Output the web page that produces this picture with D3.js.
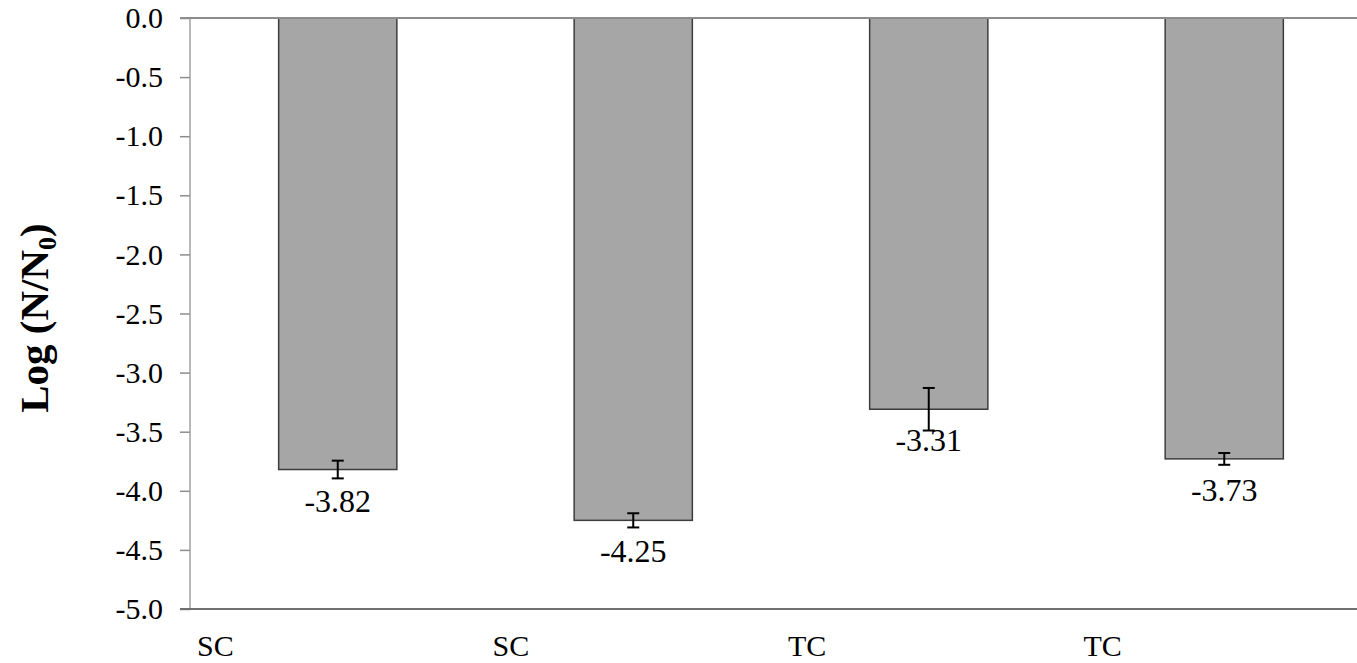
<!DOCTYPE html>
<html>
<head>
<meta charset="utf-8">
<script src="https://cdn.jsdelivr.net/npm/d3@7"></script>
<style>
  body { margin: 0; background: #fff; }
  text { font-family: "Liberation Serif", "Times New Roman", serif; }
</style>
</head>
<body>
<div id="chart"></div>
<script>
// bar chart of log reduction, four treatments with error bars
var categories = ['SC', 'SC', 'TC', 'TC'];
var values = [-3.82, -4.25, -3.31, -3.73];
var errors = [0.075, 0.06, 0.18, 0.05];
var yTicks = [0, -0.5, -1, -1.5, -2, -2.5, -3, -3.5, -4, -4.5, -5];

var svgWidth = 1357;
var svgHeight = 663;
var margin = { top: 18, left: 190, bottom: 54 };
// plot area runs past the right edge of the picture
var plotRight = 1372;
var plotBottom = svgHeight - margin.bottom;

var svg = d3.select('#chart')
  .append('svg')
  .attr('width', svgWidth)
  .attr('height', svgHeight);

var xScale = d3.scaleBand()
  .domain(d3.range(categories.length))
  .range([margin.left, plotRight])
  .paddingInner(0.6)
  .paddingOuter(0.3);

var yScale = d3.scaleLinear()
  .domain([0, -5])
  .range([margin.top, plotBottom]);

// y axis
var yAxis = d3.axisLeft(yScale)
  .tickValues(yTicks)
  .tickSize(10)
  .tickPadding(17)
  .tickFormat(d3.format('.1f'));

var yAxisGroup = svg.append('g')
  .attr('transform', `translate(${margin.left}, 0)`)
  .call(yAxis)
  .attr('font-family', null);
yAxisGroup.select('.domain').remove();
yAxisGroup.selectAll('.tick line').attr('stroke', '#8c8c8c').attr('stroke-width', 1.5);
yAxisGroup.selectAll('.tick text')
  .attr('font-size', 30)
  .attr('fill', '#000')
  .text(d => d3.format('.1f')(d).replace('−', '-'));

svg.append('line')
  .attr('x1', margin.left).attr('x2', margin.left)
  .attr('y1', margin.top).attr('y2', plotBottom)
  .attr('stroke', '#a0a0a0').attr('stroke-width', 1.5);

// bottom border
svg.append('line')
  .attr('x1', margin.left - 10).attr('x2', svgWidth)
  .attr('y1', plotBottom).attr('y2', plotBottom)
  .attr('stroke', '#707070').attr('stroke-width', 2);

// bars
svg.selectAll('rect.bar')
  .data(values)
  .enter()
  .append('rect')
  .attr('class', 'bar')
  .attr('x', (d, i) => xScale(i))
  .attr('y', yScale(0))
  .attr('width', xScale.bandwidth())
  .attr('height', d => yScale(d) - yScale(0))
  .attr('fill', '#a6a6a6')
  .attr('stroke', '#3c3c3c')
  .attr('stroke-width', 1.5);

// zero line on top
svg.append('line')
  .attr('x1', margin.left - 10).attr('x2', svgWidth)
  .attr('y1', yScale(0)).attr('y2', yScale(0))
  .attr('stroke', '#8c8c8c').attr('stroke-width', 2);

// error bars
var errGroup = svg.selectAll('g.err')
  .data(values)
  .enter()
  .append('g')
  .attr('class', 'err');
var cx = i => xScale(i) + xScale.bandwidth() / 2;
errGroup.append('line')
  .attr('x1', (d, i) => cx(i)).attr('x2', (d, i) => cx(i))
  .attr('y1', (d, i) => yScale(d + errors[i]))
  .attr('y2', (d, i) => yScale(d - errors[i]))
  .attr('stroke', '#000').attr('stroke-width', 2);
[1, -1].forEach(function(s) {
  errGroup.append('line')
    .attr('x1', (d, i) => cx(i) - 6).attr('x2', (d, i) => cx(i) + 6)
    .attr('y1', (d, i) => yScale(d + s * errors[i]))
    .attr('y2', (d, i) => yScale(d + s * errors[i]))
    .attr('stroke', '#000').attr('stroke-width', 2);
});

// value labels
svg.selectAll('text.value')
  .data(values)
  .enter()
  .append('text')
  .attr('class', 'value')
  .attr('x', (d, i) => cx(i))
  .attr('y', d => yScale(d) + 42)
  .attr('text-anchor', 'middle')
  .attr('font-size', 32)
  .text(d => d.toFixed(2));

// category labels
svg.selectAll('text.cat')
  .data(categories)
  .enter()
  .append('text')
  .attr('class', 'cat')
  .attr('x', (d, i) => margin.left + i * xScale.step() + 7)
  .attr('y', 656)
  .attr('font-size', 30)
  .text(d => d);

// y axis title
var yTitle = svg.append('text')
  .attr('transform', 'translate(48, 318) rotate(-90)')
  .attr('text-anchor', 'middle')
  .attr('font-size', 41)
  .attr('font-weight', 'bold');
yTitle.append('tspan').text('Log (N/N');
yTitle.append('tspan').attr('font-size', 26).attr('dy', 8).text('0');
yTitle.append('tspan').attr('dy', -8).text(')');
</script>
</body>
</html>
